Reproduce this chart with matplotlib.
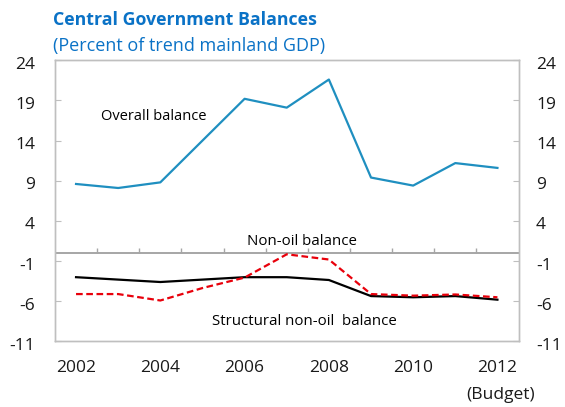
import matplotlib.pyplot as plt
import matplotlib.transforms as mtransforms
import numpy as np

plt.rcParams["font.family"] = ["Open Sans", "DejaVu Sans"]
plt.rcParams["axes.unicode_minus"] = False

# datos (% del PIB continental de tendencia)
years = [2002, 2003, 2004, 2005, 2006, 2007, 2008, 2009, 2010, 2011, 2012]
overall = [8.6, 8.1, 8.8, 14.0, 19.2, 18.1, 21.6, 9.4, 8.4, 11.2, 10.6]
structural = [-3.0, -3.3, -3.6, -3.3, -3.0, -3.0, -3.35, -5.35, -5.5, -5.35, -5.8]
non_oil = [-5.1, -5.1, -5.9, -4.35, -3.05, -0.15, -0.8, -5.1, -5.3, -5.15, -5.5]
yticks = [24, 19, 14, 9, 4, -1, -6, -11]
xlabels = ["2002", "2004", "2006", "2008", "2010", "2012"]

BLUE_T = "#0a72c6"
GRIS = "#bfbfbf"
TXT = "#1a1a1a"

fig = plt.figure(figsize=(5.65, 4.07), dpi=100)
ax = fig.add_axes([0.0973, 0.161, 0.8204, 0.691])
ax2 = ax.twinx()

x = np.arange(len(years))
ax.plot(x, overall, color="#1f8fc0", lw=1.6)
ax.plot(x, structural, color="black", lw=1.6)
ax.plot(x, non_oil, color="#e8000b", lw=1.6, ls=(0, (3, 1.6)))

# línea del cero con marcas entre categorías
ax.axhline(0, color="#a6a6a6", lw=1.4, zorder=1)
ax.vlines(x[:-1] + 0.5, 0, 0.6, color="#a6a6a6", lw=1.0)

ax.set_xlim(-0.5, len(years) - 0.5)
for a in (ax, ax2):
    a.set_ylim(-11, 24)
    a.set_yticks(yticks)
    for s in a.spines.values():
        s.set_color(GRIS)
        s.set_linewidth(1.0)
ax.set_xticks(x[::2])
ax.set_xticklabels(xlabels)
ax.tick_params(axis="x", length=0, pad=13, labelsize=12.5, colors=TXT)
ax.tick_params(axis="y", direction="in", length=4, color=GRIS, labelsize=12.5,
               pad=14.4, labelcolor=TXT)
ax2.tick_params(axis="y", direction="in", length=4, color=GRIS, labelsize=12.5,
                pad=12.6, labelcolor=TXT)

# las etiquetas del eje y van un pelín por debajo de la marca
bajar = mtransforms.ScaledTranslation(0, -2.5 / 100, fig.dpi_scale_trans)
for lbl in ax.get_yticklabels() + ax2.get_yticklabels():
    lbl.set_transform(lbl.get_transform() + bajar)

ax.text(10.08, -0.19, "(Budget)", transform=ax.get_xaxis_transform(),
        ha="center", va="center", fontsize=12.5, color=TXT)

ax.text(1.85, 17.0, "Overall balance", ha="center", va="center", fontsize=10.5)
ax.text(5.37, 1.45, "Non-oil balance", ha="center", va="center", fontsize=10.8)
ax.text(5.43, -8.55, "Structural non-oil  balance", ha="center", va="center",
        fontsize=10.8)

fig.text(0.094, 0.952, "Central Government Balances", color=BLUE_T,
         fontsize=12.8, fontweight="bold", ha="left", va="center")
fig.text(0.094, 0.888, "(Percent of trend mainland GDP)", color=BLUE_T,
         fontsize=13, ha="left", va="center")

fig.savefig("out.png", dpi=100)
